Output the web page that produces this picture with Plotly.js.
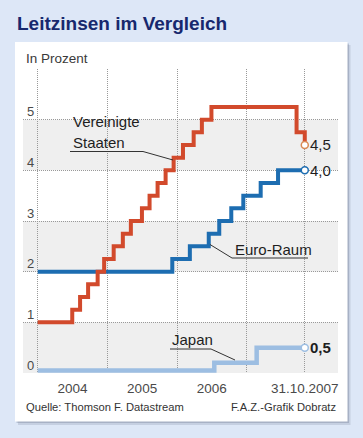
<!DOCTYPE html>
<html>
<head>
<meta charset="utf-8">
<script src="https://cdn.plot.ly/plotly-3.0.1.min.js"></script>
<style>
html,body{margin:0;padding:0;background:#dde7f7;}
#chart{width:363px;height:438px;}
</style>
</head>
<body>
<div id="chart"></div>
<script>
// ---- data ----
const usDates = ['2004-01-01','2004-06-30','2004-08-10','2004-09-21','2004-11-10','2004-12-14','2005-02-02','2005-03-22','2005-05-03','2005-06-30','2005-08-09','2005-09-20','2005-11-01','2005-12-13','2006-01-31','2006-03-28','2006-05-10','2006-06-29','2007-09-18','2007-10-31'];
const usRates = [1.0,1.25,1.5,1.75,2.0,2.25,2.5,2.75,3.0,3.25,3.5,3.75,4.0,4.25,4.5,4.75,5.0,5.25,4.75,4.5];

const euDates = ['2004-01-01','2005-12-06','2006-03-08','2006-06-15','2006-08-09','2006-10-11','2006-12-13','2007-03-14','2007-06-13','2007-10-31'];
const euRates = [2.0,2.25,2.5,2.75,3.0,3.25,3.5,3.75,4.0,4.0];

const jpDates = ['2004-01-01','2006-07-14','2007-02-21','2007-10-31'];
const jpRates = [0.05,0.2,0.5,0.5];

const gridDates = ['2004-01-01','2005-01-01','2006-01-01','2007-01-01','2007-10-31'];
const xLabelDates = ['2004-07-01','2005-07-01','2006-07-01','2007-10-31'];
const xLabelTexts = ['2004','2005','2006','31.10.2007'];
const yTicks = [0,1,2,3,4,5,6];
const yTickTexts = ['0','1','2','3','4','5',''];
const bands = [[0,1],[2,3],[4,5]];

const endLabels = ['4,5','4,0','0,5'];
const seriesNames = ['Vereinigte','Staaten','Euro-Raum','Japan'];

// ---- layout helpers (pixel -> paper) ----
const L = 23, R = 338, T = 69, B = 373;
function px(x){ return (x - L) / (R - L); }
function py(y){ return (B - y) / (B - T); }

const REG = 'Liberation Sans, Arial, sans-serif';
const RED = '#d24a2c', BLUE = '#1d6db1', LBLUE = '#9dbee2';

const traces = [
  {x: jpDates, y: jpRates, type:'scatter', mode:'lines', line:{shape:'hv', color:LBLUE, width:4.5}, hoverinfo:'skip'},
  {x: euDates, y: euRates, type:'scatter', mode:'lines', line:{shape:'hv', color:BLUE, width:4}, hoverinfo:'skip'},
  {x: usDates, y: usRates, type:'scatter', mode:'lines', line:{shape:'hv', color:RED, width:4}, hoverinfo:'skip'},
  {x: [jpDates[jpDates.length-1]], y:[jpRates[jpRates.length-1]], type:'scatter', mode:'markers', marker:{symbol:'circle', size:7, color:'#fff', line:{color:LBLUE, width:1.5}}, hoverinfo:'skip'},
  {x: [euDates[euDates.length-1]], y:[euRates[euRates.length-1]], type:'scatter', mode:'markers', marker:{symbol:'circle', size:7, color:'#fff', line:{color:BLUE, width:1.5}}, hoverinfo:'skip'},
  {x: [usDates[usDates.length-1]], y:[usRates[usRates.length-1]], type:'scatter', mode:'markers', marker:{symbol:'circle', size:7, color:'#fff', line:{color:'#d98a55', width:1.5}}, hoverinfo:'skip'},
  {x: [], y: [], xaxis:'x2', type:'scatter', mode:'lines', hoverinfo:'skip'}
];

const shapes = [
  // panel shadow + panel
  {type:'rect', xref:'paper', yref:'paper', x0:px(18), x1:px(350.5), y0:py(45), y1:py(425), fillcolor:'rgba(90,100,125,0.18)', line:{width:0}, layer:'below'},
  {type:'rect', xref:'paper', yref:'paper', x0:px(16.5), x1:px(349), y0:py(43.5), y1:py(423), fillcolor:'rgba(90,100,125,0.28)', line:{width:0}, layer:'below'},
  {type:'rect', xref:'paper', yref:'paper', x0:px(15), x1:px(347.5), y0:py(42), y1:py(421.5), fillcolor:'#ffffff', line:{width:0}, layer:'below'}
];
bands.forEach(b => shapes.push({type:'rect', xref:'paper', yref:'y', x0:0, x1:1, y0:b[0], y1:b[1], fillcolor:'#efefef', line:{width:0}, layer:'below'}));
// leader lines
function leader(pts){
  return {type:'path', xref:'paper', yref:'paper', layer:'above',
    path: pts.map((p,i)=> (i?'L':'M') + px(p[0]) + ',' + py(p[1])).join(' '),
    line:{color:'#333', width:1}};
}
shapes.push(leader([[70,151.5],[143,151.5],[173,160]]));
shapes.push(leader([[308,258],[232,258],[210,244.5]]));
shapes.push(leader([[170,349],[211,349],[235,360]]));

function ann(text, x, y, size, opts){
  return Object.assign({text:text, xref:'paper', yref:'paper', x:px(x), y:py(y), showarrow:false,
    xanchor:'left', yanchor:'middle', font:{family:REG, size:size, color:'#1e1e1e'}}, opts||{});
}
const annotations = [
  ann('<b>Leitzinsen im Vergleich</b>', 15, 23.5, 19, {font:{family:REG, size:19, color:'#17286e'}}),
  ann('In Prozent', 24, 58, 13.5, {font:{family:REG, size:13.5, color:'#3a3a3a'}}),
  ann(seriesNames[0], 70.5, 122, 15),
  ann(seriesNames[1], 70.5, 142.5, 15),
  ann(seriesNames[2], 233, 249, 15),
  ann(seriesNames[3], 170, 339, 15),
  ann(endLabels[0], 308, 144, 15),
  ann(endLabels[1], 308, 170.5, 15),
  ann('<b>' + endLabels[2] + '</b>', 308, 347.5, 15),
  ann('Quelle: Thomson F. Datastream', 24, 406.5, 11.2, {font:{family:REG, size:11.2, color:'#333'}}),
  ann('F.A.Z.-Grafik Dobratz', 337.5, 406.5, 11.2, {xanchor:'right', font:{family:REG, size:11.2, color:'#333'}})
];

const xRange = ['2003-10-16','2008-04-22'];
const layout = {
  width:363, height:438,
  margin:{l:L, r:363-R, t:T, b:438-B, pad:0},
  paper_bgcolor:'#dde7f7',
  plot_bgcolor:'rgba(0,0,0,0)',
  showlegend:false,
  xaxis:{type:'date', range:xRange, tickmode:'array', tickvals:gridDates, showticklabels:false,
    showgrid:true, gridcolor:'#999', griddash:'1px,1px', gridwidth:1, zeroline:false, showline:false, ticks:'', fixedrange:true},
  xaxis2:{type:'date', range:xRange, overlaying:'x', anchor:'y', side:'bottom', tickmode:'array', tickvals:xLabelDates, ticktext:xLabelTexts,
    showgrid:false, zeroline:false, showline:false, ticks:'', ticklabelstandoff:5, tickfont:{family:REG, size:13.5, color:'#4a4a4a'}, fixedrange:true},
  yaxis:{range:[0,6], tickmode:'array', tickvals:yTicks, ticktext:yTickTexts, ticklabelposition:'inside', ticklabelshift:-8, ticklabelstandoff:1,
    showgrid:true, gridcolor:'#999', griddash:'1px,1px', gridwidth:1, zeroline:false, showline:false, ticks:'',
    tickfont:{family:REG, size:13, color:'#4a4a4a'}, fixedrange:true},
  shapes:shapes,
  annotations:annotations
};
Plotly.newPlot('chart', traces, layout, {displayModeBar:false, staticPlot:true});
</script>
</body>
</html>
